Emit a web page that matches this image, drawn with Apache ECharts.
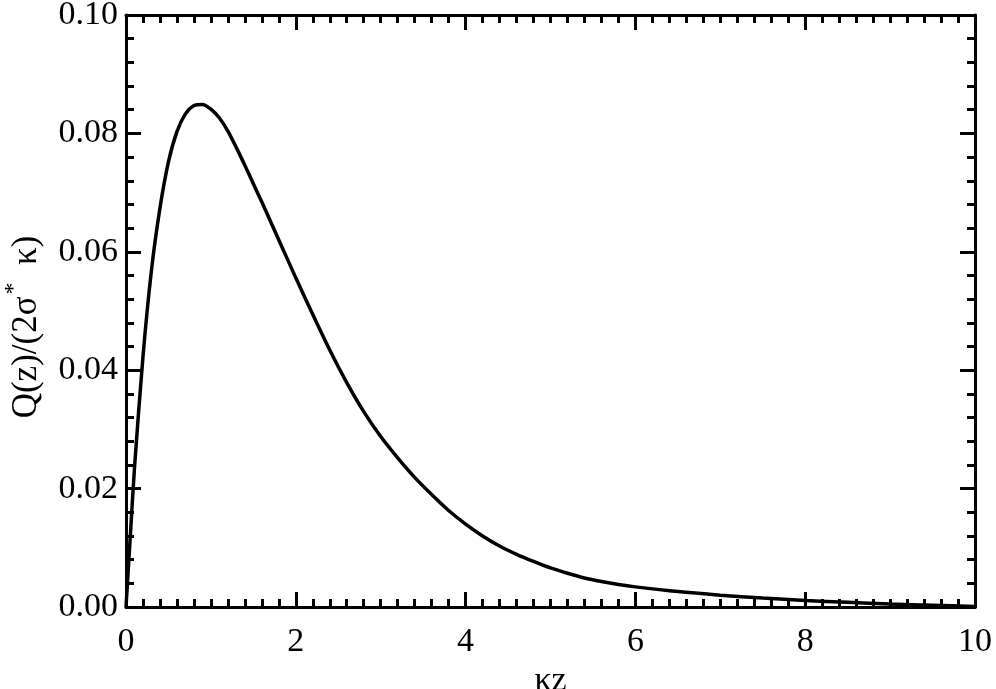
<!DOCTYPE html>
<html>
<head>
<meta charset="utf-8">
<script src="https://cdn.jsdelivr.net/npm/echarts@6/dist/echarts.min.js"></script>
<style>
html,body{margin:0;padding:0;background:#fff;}
#chart{width:996px;height:689px;}
</style>
</head>
<body>
<div id="chart"></div>
<script>
var kz = [0, 0.05, 0.1, 0.2, 0.3, 0.4, 0.5, 0.6, 0.7, 0.8, 0.9, 1.0, 1.1, 1.2, 1.3, 1.4, 1.5, 1.6, 1.7, 1.8, 1.9, 2.0, 2.2, 2.4, 2.6, 2.8, 3.0, 3.2, 3.4, 3.6, 3.8, 4.0, 4.2, 4.4, 4.6, 4.8, 5.0, 5.2, 5.4, 5.6, 5.8, 6.0, 6.5, 7.0, 7.5, 8.0, 8.5, 9.0, 9.5, 10.0];
var q = [0, 0.0118, 0.0235, 0.0423, 0.0569, 0.0674, 0.0752, 0.0803, 0.0833, 0.0847, 0.0849, 0.0841, 0.0826, 0.0804, 0.0776, 0.0746, 0.0715, 0.0684, 0.0652, 0.0620, 0.0588, 0.0556, 0.0494, 0.0434, 0.0379, 0.0330, 0.0288, 0.0252, 0.0219, 0.0190, 0.0163, 0.0140, 0.0120, 0.0103, 0.0089, 0.0077, 0.0066, 0.0057, 0.0049, 0.0043, 0.0038, 0.0034, 0.0026, 0.0020, 0.0015, 0.0011, 0.0008, 0.0005, 0.0003, 0.0001];
var xTicks = [0, 2, 4, 6, 8, 10];
var yTicks = ['0.00', '0.02', '0.04', '0.06', '0.08', '0.10'];
var xTitle = 'κz';

var font = "'Liberation Serif', 'Times New Roman', serif";
var lineStyle = {color: '#000', width: 3};
function xAxis(pos, showLabel) {
  return {
    type: 'value', position: pos, min: 0, max: 10, interval: 2,
    axisLine: {show: true, onZero: false, lineStyle: lineStyle},
    axisTick: {show: true, inside: true, length: 15, lineStyle: {color: '#000', width: 3}},
    minorTick: {show: true, splitNumber: 10, length: 8, lineStyle: {color: '#000', width: 3}},
    splitLine: {show: false}, minorSplitLine: {show: false},
    axisLabel: {show: showLabel, color: '#000', fontFamily: font, fontSize: 34, margin: 18,
      formatter: function (v) { return xTicks.indexOf(v) >= 0 ? String(v) : ''; }},
    name: showLabel ? xTitle : '', nameLocation: 'middle', nameGap: 50,
    nameTextStyle: {color: '#000', fontFamily: font, fontSize: 34, verticalAlign: 'top'}
  };
}
function yAxis(pos, showLabel) {
  return {
    type: 'value', position: pos, min: 0, max: 0.1, interval: 0.02,
    axisLine: {show: true, onZero: false, lineStyle: lineStyle},
    axisTick: {show: true, inside: true, length: 15, lineStyle: {color: '#000', width: 3}},
    minorTick: {show: true, splitNumber: 5, length: 8, lineStyle: {color: '#000', width: 3}},
    splitLine: {show: false}, minorSplitLine: {show: false},
    axisLabel: {show: showLabel, color: '#000', fontFamily: font, fontSize: 34, margin: 8,
      formatter: function (v) { return yTicks[Math.round(v / 0.02)]; }},
    name: showLabel ? 'Q(z)/(2σ{s|*}  κ)' : '', nameLocation: 'middle', nameGap: 74, nameRotate: 90,
    nameTextStyle: {color: '#000', fontFamily: font, fontSize: 35, padding: [0, 32, 0, 0],
      rich: {s: {fontFamily: font, fontSize: 24, color: '#000', verticalAlign: 'bottom', padding: [0, 0, 26, 2]}}}
  };
}
var chart = echarts.init(document.getElementById('chart'));
chart.setOption({
  animation: false,
  backgroundColor: '#fff',
  grid: {left: 126, right: 21, top: 15, bottom: 82, containLabel: false, outerBoundsMode: 'none'},
  xAxis: [xAxis('bottom', true), xAxis('top', false)],
  yAxis: [yAxis('left', true), yAxis('right', false)],
  series: [{
    type: 'line', xAxisIndex: 0, yAxisIndex: 0,
    data: kz.map(function (z, i) { return [z, q[i]]; }),
    showSymbol: false, smooth: 0.25,
    lineStyle: {color: '#000', width: 3.5}
  }]
});
</script>
</body>
</html>
